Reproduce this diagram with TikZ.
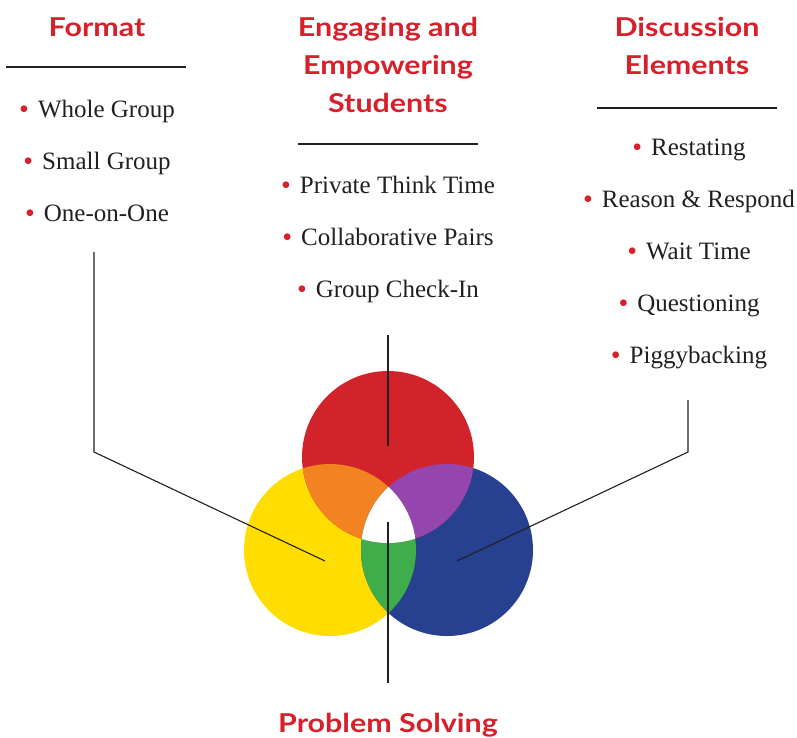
\documentclass[tikz,border=0pt]{standalone}
\usepackage{fontspec}
\setmainfont{Liberation Serif}
\newfontfamily\headfont{Lato}[FakeStretch=1.17]
\usetikzlibrary{calc}
\definecolor{hred}{HTML}{D7202A}
\definecolor{txt}{HTML}{231F20}
\definecolor{cred}{HTML}{D12329}
\definecolor{corange}{HTML}{F38321}
\definecolor{cyellow}{HTML}{FFDD00}
\definecolor{cpurple}{HTML}{9545AE}
\definecolor{cblue}{HTML}{27408F}
\definecolor{cgreen}{HTML}{40AD4B}
\newcommand{\bul}{\textcolor{hred}{\raisebox{-1pt}{\fontsize{28}{28}\selectfont\textbullet}}\hspace{9pt}}
\tikzset{
  head/.style={font=\headfont\bfseries\fontsize{26}{38}\selectfont, text=hred, align=center, anchor=base, inner sep=0pt},
  item/.style={font=\fontsize{25}{30}\selectfont, text=txt, anchor=base, inner sep=0pt},
  rule/.style={draw=txt, line width=1.1pt},
  conn/.style={draw=txt, line width=1.1pt},
}
\begin{document}
\begin{tikzpicture}[x=1pt,y=-1pt]
\useasboundingbox (0,0) rectangle (797,737);
% circles
\def\R{86}
\coordinate (cr) at (388,457);
\coordinate (cy) at (330,550);
\coordinate (cb) at (447,550);
\fill[cyellow] (cy) circle (\R);
\fill[cblue] (cb) circle (\R);
\fill[cred] (cr) circle (\R);
\begin{scope}
  \clip (cr) circle (\R);
  \fill[corange] (cy) circle (\R);
  \fill[cpurple] (cb) circle (\R);
\end{scope}
\begin{scope}
  \clip (cy) circle (\R);
  \fill[cgreen] (cb) circle (\R);
  \clip (cr) circle (\R);
  \fill[white] (cb) circle (\R);
\end{scope}
% headings
\node[head] (hformat) at (97,36) {Format};
\node[head] (hengage) at (388,112) {Engaging and\\Empowering\\Students};
\node[head] (hdisc) at (687,74) {Discussion\\Elements};
\node[head] (hprob) at (388,732) {Problem Solving};
% rules
\coordinate (r1a) at (6,67); \coordinate (r1b) at (186,67);
\coordinate (r2a) at (298,144); \coordinate (r2b) at (478,144);
\coordinate (r3a) at (597,108); \coordinate (r3b) at (777,108);
\draw[rule] (r1a) -- (r1b);
\draw[rule] (r2a) -- (r2b);
\draw[rule] (r3a) -- (r3b);
% items
\node[item] (f1) at (97,117) {\bul Whole Group};
\node[item] (f2) at (97,169) {\bul Small Group};
\node[item] (f3) at (97,221) {\bul One-on-One};
\node[item] (e1) at (388,193) {\bul Private Think Time};
\node[item] (e2) at (388,245) {\bul Collaborative Pairs};
\node[item] (e3) at (388,297) {\bul Group Check-In};
\node[item] (d1) at (689,155) {\bul Restating};
\node[item] (d2) at (689,207) {\bul Reason \& Respond};
\node[item] (d3) at (689,259) {\bul Wait Time};
\node[item] (d4) at (689,311) {\bul Questioning};
\node[item] (d5) at (689,363) {\bul Piggybacking};
% connectors
\coordinate (la) at (94,252); \coordinate (lb) at (94,452); \coordinate (lc) at (325,561);
\coordinate (ma) at (388,335); \coordinate (mb) at (388,446);
\coordinate (ra) at (688,400); \coordinate (rb) at (688,452); \coordinate (rc) at (457,561);
\coordinate (ba) at (388,522); \coordinate (bb) at (388,683);
\draw[conn] (la) -- (lb) -- (lc);
\draw[conn] (ma) -- (mb);
\draw[conn] (ra) -- (rb) -- (rc);
\draw[conn] (ba) -- (bb);
\end{tikzpicture}
\end{document}
